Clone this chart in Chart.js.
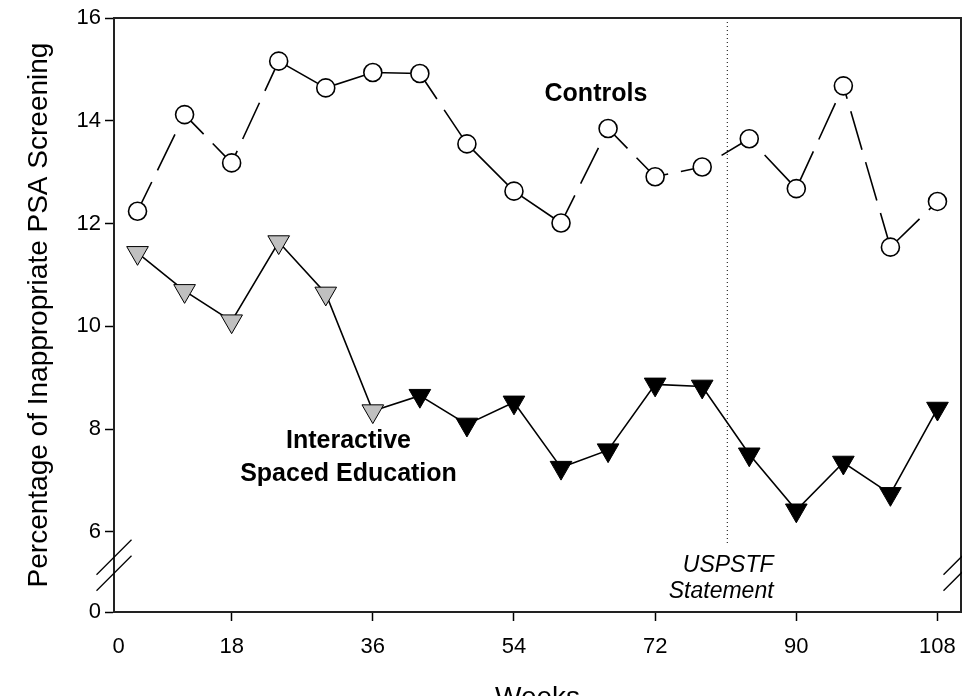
<!DOCTYPE html>
<html>
<head>
<meta charset="utf-8">
<script src="https://cdn.jsdelivr.net/npm/chart.js@4.4.1/dist/chart.umd.min.js"></script>
<style>
  html, body { margin: 0; padding: 0; background: #fff; overflow: hidden; }
</style>
</head>
<body>
<canvas id="chart" width="962" height="696"></canvas>
<script>
// data
const weeks = [6, 12, 18, 24, 30, 36, 42, 48, 54, 60, 66, 72, 78, 84, 90, 96, 102, 108];
const controls = [12.24, 14.12, 13.18, 15.16, 14.64, 14.94, 14.92, 13.55, 12.63, 12.01, 13.85, 12.91, 13.10, 13.65, 12.68, 14.68, 11.54, 12.43];
const education = [11.43, 10.69, 10.10, 11.64, 10.64, 8.35, 8.65, 8.09, 8.52, 7.25, 7.59, 8.87, 8.83, 7.51, 6.42, 7.35, 6.74, 8.40];
const xTicks = [18, 36, 54, 72, 90, 108];
const yTicks = [6, 8, 10, 12, 14, 16];

// axis layout (broken y axis: the "0" sits just below the break)
const xMin = 3, xMax = 111, xZeroAt = 3.6;
const yMin = 4.44, yMax = 16, yBreakAt = 5.35;
const statementWeek = 81.2, statementTop = 16, statementBottom = 5.75;
const grayCount = 6; // first triangles drawn gray

// SigmaPlot-ish dashes, restarted per segment (null = solid)
const controlsDash = [40, 13];
const controlsDashOffset = [7.5, 12.7, 26.7, null, null, null, 9.3, null, null, 9, 12.2, 26.7, 30.4, 30.6, 52, 26.5, 52.4];

const FONT = "'Liberation Sans', Arial, sans-serif";
Chart.defaults.font.family = FONT;
Chart.defaults.color = '#000';

const annotations = {
  id: 'annotations',
  afterDatasetsDraw(chart) {
    const { ctx, chartArea: a, scales: { x, y } } = chart;
    ctx.save();
    // top + right frame
    ctx.strokeStyle = '#222';
    ctx.lineWidth = 2;
    ctx.beginPath();
    ctx.moveTo(a.left, a.top);
    ctx.lineTo(a.right, a.top);
    ctx.lineTo(a.right, a.bottom);
    ctx.stroke();

    // axis break marks
    const yb = y.getPixelForValue(yBreakAt);
    ctx.lineWidth = 1.3;
    ctx.strokeStyle = '#000';
    [a.left, a.right].forEach(xp => {
      [-8, 8].forEach(dy => {
        ctx.beginPath();
        ctx.moveTo(xp - 17.5, yb + dy + 17.5);
        ctx.lineTo(xp + 17.5, yb + dy - 17.5);
        ctx.stroke();
      });
    });

    ctx.fillStyle = '#000';
    ctx.textBaseline = 'middle';
    ctx.textAlign = 'center';
    ctx.font = 'bold 25px ' + FONT;
    ctx.fillText('Controls', x.getPixelForValue(64.45), y.getPixelForValue(14.52));
    ctx.fillText('Interactive', x.getPixelForValue(32.9), y.getPixelForValue(7.76));
    ctx.fillText('Spaced Education', x.getPixelForValue(32.9), y.getPixelForValue(7.13));

    ctx.textAlign = 'right';
    ctx.font = 'italic 23px ' + FONT;
    ctx.fillText('USPSTF', x.getPixelForValue(87.1), y.getPixelForValue(5.34));
    ctx.fillText('Statement', x.getPixelForValue(87.1), y.getPixelForValue(4.83));
    ctx.restore();
  }
};

new Chart(document.getElementById('chart'), {
  type: 'line',
  data: {
    datasets: [
      {
        label: 'Controls',
        data: weeks.map((w, i) => ({ x: w, y: controls[i] })),
        borderColor: '#000',
        borderWidth: 1.6,
        pointStyle: 'circle',
        pointRadius: 9,
        pointBorderWidth: 1.6,
        pointBackgroundColor: '#fff',
        pointBorderColor: '#000',
        segment: {
          borderDash: ctx => controlsDashOffset[ctx.p0DataIndex] == null ? [] : controlsDash,
          borderDashOffset: ctx => controlsDashOffset[ctx.p0DataIndex] ?? 0,
        },
        order: 1,
      },
      {
        label: 'Interactive Spaced Education',
        data: weeks.map((w, i) => ({ x: w, y: education[i] })),
        borderColor: '#000',
        borderWidth: 1.6,
        pointStyle: 'triangle',
        rotation: 180,
        pointRadius: 12.5,
        pointBorderWidth: 1,
        pointBorderColor: '#000',
        pointBackgroundColor: ctx => ctx.dataIndex < grayCount ? '#c0c0c0' : '#000',
        order: 2,
      },
      {
        label: 'USPSTF Statement',
        data: [{ x: statementWeek, y: statementTop }, { x: statementWeek, y: statementBottom }],
        borderColor: '#000',
        borderWidth: 1,
        borderDash: [1, 3],
        pointRadius: 0,
        order: 3,
      },
    ],
  },
  options: {
    responsive: false,
    animation: false,
    layout: { autoPadding: false, padding: { top: 18, right: 1, left: 0, bottom: 0 } },
    plugins: {
      legend: { display: false },
      tooltip: { enabled: false },
    },
    scales: {
      x: {
        type: 'linear',
        min: xMin,
        max: xMax,
        afterBuildTicks: scale => { scale.ticks = [xZeroAt, ...xTicks].map(v => ({ value: v })); },
        afterFit: scale => {
          scale.height = 84;
          scale.paddingLeft = 0;
          scale.paddingRight = 0;
        },
        ticks: {
          font: { size: 22 },
          padding: 13,
          maxRotation: 0,
          autoSkip: false,
          callback: v => v === xZeroAt ? '0' : v,
        },
        grid: {
          drawOnChartArea: false,
          tickLength: 9,
          tickWidth: 1.5,
          tickColor: ctx => ctx.tick && ctx.tick.value === xZeroAt ? 'rgba(0,0,0,0)' : '#000',
        },
        border: { color: '#222', width: 2 },
        title: {
          display: true,
          text: 'Weeks',
          font: { size: 28 },
          padding: { top: 0, bottom: -19 },
        },
      },
      y: {
        type: 'linear',
        min: yMin,
        max: yMax,
        afterBuildTicks: scale => { scale.ticks = [yMin, ...yTicks].map(v => ({ value: v })); },
        afterFit: scale => {
          scale.width = 114;
          scale.paddingTop = 0;
          scale.paddingBottom = 0;
        },
        ticks: {
          font: { size: 22 },
          padding: 4,
          autoSkip: false,
          callback: v => v === yMin ? '0' : v,
        },
        grid: {
          drawOnChartArea: false,
          tickLength: 9,
          tickWidth: 1.5,
          tickColor: '#000',
        },
        border: { color: '#222', width: 2 },
        title: {
          display: true,
          text: 'Percentage of Inappropriate PSA Screening',
          font: { size: 28 },
          padding: { top: 22, bottom: 0 },
        },
      },
    },
  },
  plugins: [annotations],
});
</script>
</body>
</html>
